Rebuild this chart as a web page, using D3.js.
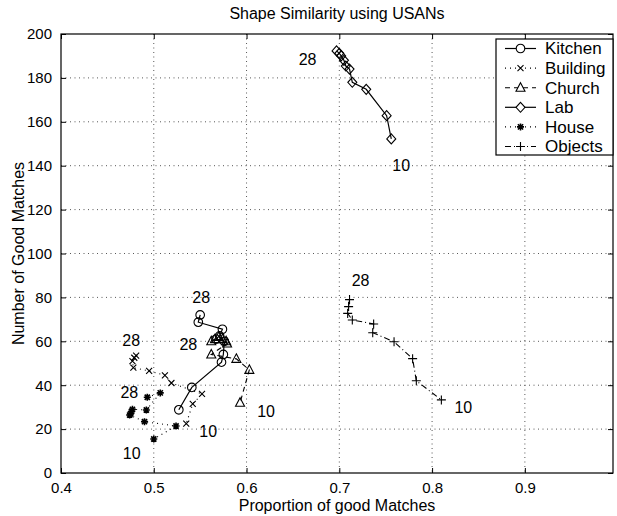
<!DOCTYPE html>
<html>
<head>
<meta charset="utf-8">
<script src="https://cdn.jsdelivr.net/npm/d3@7"></script>
<style>
  body { margin: 0; background: #fff; }
  svg { display: block; font-family: "Liberation Sans", Arial, Helvetica, sans-serif; }
</style>
</head>
<body>
<div id="chart"></div>
<script>
// Series values, ordered from window 28 down to window 10.
const kitchenX  = [0.550, 0.548, 0.574, 0.571, 0.567, 0.576, 0.575, 0.573, 0.541, 0.527];
const kitchenY  = [72, 68.7, 65.5, 62.5, 61, 60, 54, 50.5, 39, 28.8];
const buildingX = [0.481, 0.479, 0.477, 0.478, 0.495, 0.512, 0.519, 0.552, 0.542, 0.535];
const buildingY = [53.5, 52.5, 51, 48, 46.5, 44.5, 41, 36, 31.5, 22.5];
const churchX   = [0.562, 0.566, 0.570, 0.574, 0.578, 0.579, 0.562, 0.589, 0.603, 0.593];
const churchY   = [60, 61, 62, 61, 60, 59, 54, 52, 47, 32];
const labX      = [0.697, 0.700, 0.702, 0.705, 0.707, 0.711, 0.714, 0.729, 0.751, 0.756];
const labY      = [192.3, 191.2, 190, 188, 185.4, 184, 178, 174.8, 162.8, 152.2];
const houseX    = [0.493, 0.507, 0.492, 0.477, 0.476, 0.475, 0.474, 0.490, 0.524, 0.500];
const houseY    = [34.5, 36.5, 28.7, 29, 28, 27, 26.4, 23.4, 21.4, 15.5];
const objectsX  = [0.711, 0.710, 0.709, 0.714, 0.737, 0.736, 0.759, 0.779, 0.783, 0.810];
const objectsY  = [79, 75.8, 72.7, 69.7, 67.9, 63.9, 59.8, 52.1, 42, 33.3];

const seriesNames = ["Kitchen", "Building", "Church", "Lab", "House", "Objects"];
const xTicks = [0.4, 0.5, 0.6, 0.7, 0.8, 0.9];
const yTicks = [0, 20, 40, 60, 80, 100, 120, 140, 160, 180, 200];
const windowLabels = ["28", "10"];

// Page size and plot box.
const W = 617, H = 516;
const plot = { left: 61, right: 613, top: 34, bottom: 473 };

const svg = d3.select("#chart").append("svg")
    .attr("width", W)
    .attr("height", H);

const x = d3.scaleLinear().domain([0.4, 0.995]).range([plot.left, plot.right]);
const y = d3.scaleLinear().domain([0, 200]).range([plot.bottom, plot.top]);

// Dotted grid lines.
const grid = svg.append("g")
    .attr("stroke", "#444")
    .attr("stroke-width", 0.9)
    .attr("stroke-dasharray", "1,3.5");
grid.selectAll(".vx")
    .data(xTicks.filter(d => d > 0.4))
    .enter().append("line")
    .attr("x1", d => x(d)).attr("x2", d => x(d))
    .attr("y1", plot.top).attr("y2", plot.bottom);
grid.selectAll(".hy")
    .data(yTicks.filter(d => d > 0 && d < 200))
    .enter().append("line")
    .attr("x1", plot.left).attr("x2", plot.right)
    .attr("y1", d => y(d)).attr("y2", d => y(d));

// Axes: ticks point inward, mirrored on the top and right sides.
const tickLen = 5;
svg.append("g")
    .attr("transform", `translate(0,${plot.bottom})`)
    .call(d3.axisBottom(x).tickValues(xTicks).tickSize(-tickLen).tickPadding(9)
        .tickFormat(d3.format(".1f")))
    .call(g => g.select(".domain").remove());
svg.append("g")
    .attr("transform", `translate(0,${plot.top})`)
    .call(d3.axisTop(x).tickValues(xTicks).tickSize(-tickLen).tickFormat(""))
    .call(g => g.select(".domain").remove());
svg.append("g")
    .attr("transform", `translate(${plot.left},0)`)
    .call(d3.axisLeft(y).tickValues(yTicks).tickSize(-tickLen).tickPadding(9))
    .call(g => g.select(".domain").remove());
svg.append("g")
    .attr("transform", `translate(${plot.right},0)`)
    .call(d3.axisRight(y).tickValues(yTicks).tickSize(-tickLen).tickFormat(""))
    .call(g => g.select(".domain").remove());

svg.selectAll(".tick line").attr("stroke", "#000");
svg.selectAll(".tick text")
    .attr("fill", "#000")
    .style("font-size", "15px")
    .style("font-family", "'Liberation Sans', Arial, sans-serif");

// Box around the plot.
svg.append("rect")
    .attr("x", plot.left).attr("y", plot.top)
    .attr("width", plot.right - plot.left)
    .attr("height", plot.bottom - plot.top)
    .attr("fill", "none")
    .attr("stroke", "#000")
    .attr("stroke-width", 1.2);

// Marker shapes (MATLAB style).
function markerPath(kind) {
    const p = d3.path();
    if (kind === "circle") {
        p.moveTo(4.3, 0); p.arc(0, 0, 4.3, 0, 2 * Math.PI);
    } else if (kind === "x") {
        p.moveTo(-3, -3); p.lineTo(3, 3); p.moveTo(-3, 3); p.lineTo(3, -3);
    } else if (kind === "triangle") {
        p.moveTo(0, -5); p.lineTo(4.5, 3.5); p.lineTo(-4.5, 3.5); p.closePath();
    } else if (kind === "diamond") {
        p.moveTo(0, -5); p.lineTo(4.5, 0); p.lineTo(0, 5); p.lineTo(-4.5, 0); p.closePath();
    } else if (kind === "star") {
        p.moveTo(-3.5, 0); p.lineTo(3.5, 0); p.moveTo(0, -3.5); p.lineTo(0, 3.5);
        p.moveTo(-2.6, -2.6); p.lineTo(2.6, 2.6); p.moveTo(-2.6, 2.6); p.lineTo(2.6, -2.6);
    } else if (kind === "plus") {
        p.moveTo(-4.5, 0); p.lineTo(4.5, 0); p.moveTo(0, -4.5); p.lineTo(0, 4.5);
    }
    return p.toString();
}

const series = [
    { name: "Kitchen",  xs: kitchenX,  ys: kitchenY,  dash: null,      marker: "circle",   sw: 1.2 },
    { name: "Building", xs: buildingX, ys: buildingY, dash: "1,4",     marker: "x",        sw: 1.1 },
    { name: "Church",   xs: churchX,   ys: churchY,   dash: "5,4",     marker: "triangle", sw: 1.1 },
    { name: "Lab",      xs: labX,      ys: labY,      dash: null,      marker: "diamond",  sw: 1.2 },
    { name: "House",    xs: houseX,    ys: houseY,    dash: "1,4",     marker: "star",     sw: 1.1 },
    { name: "Objects",  xs: objectsX,  ys: objectsY,  dash: "6,3,1,3", marker: "plus",     sw: 1.1 }
];

const line = d3.line().x(d => x(d[0])).y(d => y(d[1]));

series.forEach(s => {
    const pts = s.xs.map((v, i) => [v, s.ys[i]]);
    const g = svg.append("g");
    g.append("path")
        .datum(pts)
        .attr("d", line)
        .attr("fill", "none")
        .attr("stroke", "#000")
        .attr("stroke-width", s.sw)
        .attr("stroke-dasharray", s.dash);
    g.selectAll("path.m")
        .data(pts)
        .enter().append("path")
        .attr("class", "m")
        .attr("transform", d => `translate(${x(d[0])},${y(d[1])})`)
        .attr("d", markerPath(s.marker))
        .attr("fill", "none")
        .attr("stroke", "#000")
        .attr("stroke-width", s.marker === "star" ? 1.6 : 1.1);
});

// "28" / "10" labels next to the first and last point of each series (pixel offsets).
const labelOffsets = {
    Kitchen:  [[1, -18], null],
    Building: [[-5, -15], [22, 8]],
    Church:   [[-23, 3], [26, 9]],
    Lab:      [[-29, 8], [10, 26]],
    House:    [[-18, -5], [-22, 14]],
    Objects:  [[11, -19], [22, 7]]
};
series.forEach(s => {
    const ends = [[s.xs[0], s.ys[0]], [s.xs[s.xs.length - 1], s.ys[s.ys.length - 1]]];
    labelOffsets[s.name].forEach((off, k) => {
        if (!off) return;
        svg.append("text")
            .attr("x", x(ends[k][0]) + off[0])
            .attr("y", y(ends[k][1]) + off[1])
            .attr("dy", "0.35em")
            .attr("text-anchor", "middle")
            .style("font-size", "16px")
            .text(windowLabels[k]);
    });
});

// Title and axis labels.
svg.append("text")
    .attr("x", (plot.left + plot.right) / 2)
    .attr("y", 19)
    .attr("text-anchor", "middle")
    .style("font-size", "16px")
    .text("Shape Similarity using USANs");
svg.append("text")
    .attr("x", (plot.left + plot.right) / 2)
    .attr("y", 511)
    .attr("text-anchor", "middle")
    .style("font-size", "16px")
    .text("Proportion of good Matches");
svg.append("text")
    .attr("transform", `translate(18,${(plot.top + plot.bottom) / 2}) rotate(-90)`)
    .attr("dy", "0.35em")
    .attr("text-anchor", "middle")
    .style("font-size", "16px")
    .text("Number of Good Matches");

// Legend box.
const legend = svg.append("g").attr("transform", "translate(496,39)");
legend.append("rect")
    .attr("width", 117).attr("height", 116)
    .attr("fill", "#fff")
    .attr("stroke", "#000")
    .attr("stroke-width", 1.2);
const rows = legend.selectAll("g.row")
    .data(series)
    .enter().append("g")
    .attr("class", "row")
    .attr("transform", (d, i) => `translate(0,${9.5 + i * 19.6})`);
rows.append("line")
    .attr("x1", 9).attr("x2", 40)
    .attr("stroke", "#000")
    .attr("stroke-width", d => d.sw)
    .attr("stroke-dasharray", d => d.dash);
rows.append("path")
    .attr("transform", "translate(24.5,0)")
    .attr("d", d => markerPath(d.marker))
    .attr("fill", "#fff")
    .attr("stroke", "#000")
    .attr("stroke-width", d => d.marker === "star" ? 1.6 : 1.1);
rows.append("text")
    .attr("x", 49)
    .attr("dy", "0.35em")
    .style("font-size", "17px")
    .text((d, i) => seriesNames[i]);
</script>
</body>
</html>
